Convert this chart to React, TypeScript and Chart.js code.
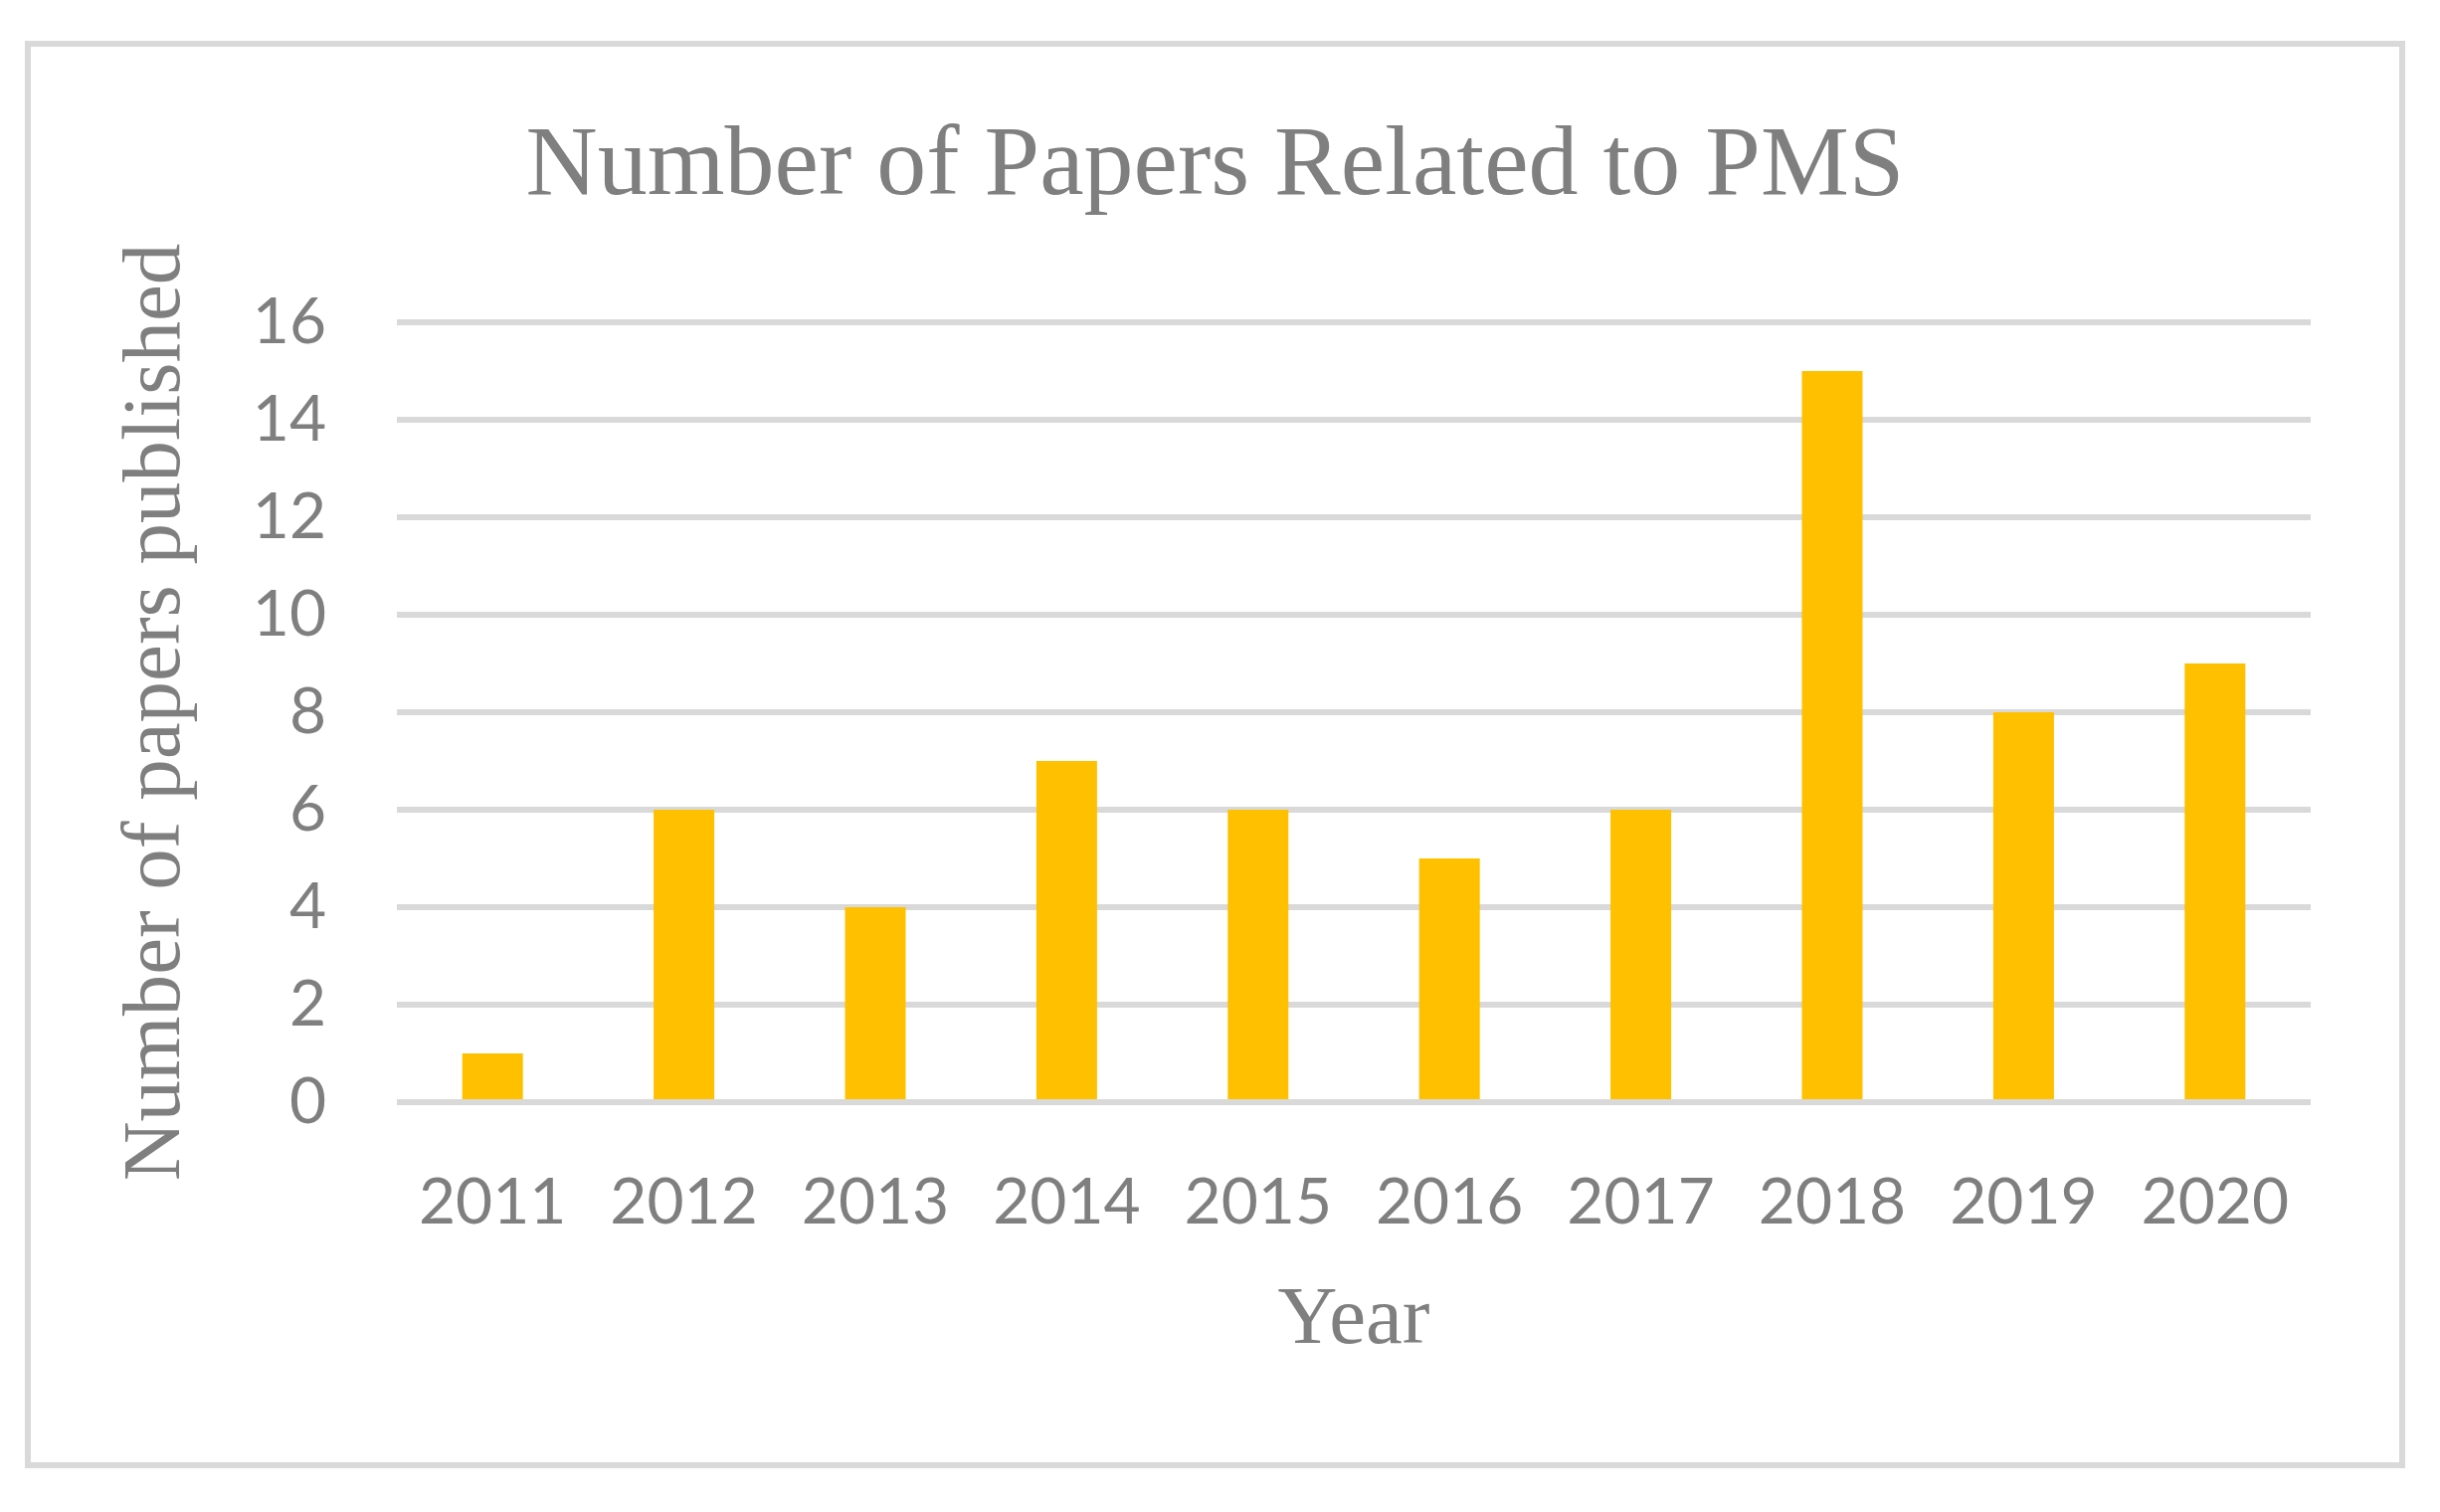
import React, { useEffect, useRef } from "react";
import { Chart, registerables } from "chart.js";

Chart.register(...registerables);

const years = ["2011", "2012", "2013", "2014", "2015", "2016", "2017", "2018", "2019", "2020"];
const papers = [1, 6, 4, 7, 6, 5, 6, 15, 8, 9];
const chartTitle = "Number of Papers Related to PMS";
const xTitle = "Year";
const yTitle = "Number of papers published";

const GRAY = "#7f7f7f";
const GRID = "#d9d9d9";
const CW = 2381;
const CH = 1423;

export default function App() {
  const ref = useRef<HTMLCanvasElement | null>(null);
  useEffect(() => {
    if (!ref.current) return;
    const chart = new Chart(ref.current, {
      type: "bar",
      data: {
        labels: years,
        datasets: [
          {
            data: papers,
            backgroundColor: "#FFC000",
            borderWidth: 0,
            barPercentage: 0.317,
            categoryPercentage: 1,
          },
        ],
      },
      options: {
        responsive: false,
        animation: false,
        devicePixelRatio: 1,
        layout: { padding: { left: 89, right: 89, top: 0, bottom: 0 } },
        plugins: {
          legend: { display: false },
          tooltip: { enabled: false },
          title: {
            display: true,
            text: chartTitle,
            color: GRAY,
            font: { family: "'Liberation Serif', 'Times New Roman', serif", size: 100, weight: "normal" },
            padding: { top: 62, bottom: 95 },
          },
        },
        scales: {
          x: {
            grid: { display: false },
            border: { display: false },
            ticks: {
              color: GRAY,
              font: { family: "Lato, 'Open Sans', sans-serif", size: 64 },
              padding: 55,
              maxRotation: 0,
            },
            title: {
              display: true,
              text: xTitle,
              color: GRAY,
              font: { family: "'Liberation Serif', 'Times New Roman', serif", size: 83 },
              padding: { top: 0, bottom: 92 },
            },
            afterFit: (scale: any) => {
              scale.height = 362;
            },
          },
          y: {
            min: 0,
            max: 16,
            grid: { color: GRID, lineWidth: 6, drawTicks: false },
            border: { display: false },
            ticks: {
              stepSize: 2,
              color: GRAY,
              font: { family: "Lato, 'Open Sans', sans-serif", size: 64 },
              padding: 71,
            },
            title: {
              display: true,
              text: yTitle,
              color: GRAY,
              font: { family: "'Liberation Serif', 'Times New Roman', serif", size: 83 },
              padding: { top: -12, bottom: 0 },
            },
            afterFit: (scale: any) => {
              scale.width = 279;
            },
          },
        },
      },
    });
    return () => chart.destroy();
  }, []);

  return (
    <div
      style={{
        position: "fixed",
        left: 25,
        top: 41,
        width: 2393,
        height: 1435,
        boxSizing: "border-box",
        border: `6px solid ${GRID}`,
        background: "#fff",
      }}
    >
      <canvas ref={ref} width={CW} height={CH} style={{ width: CW, height: CH, display: "block" }} />
    </div>
  );
}
